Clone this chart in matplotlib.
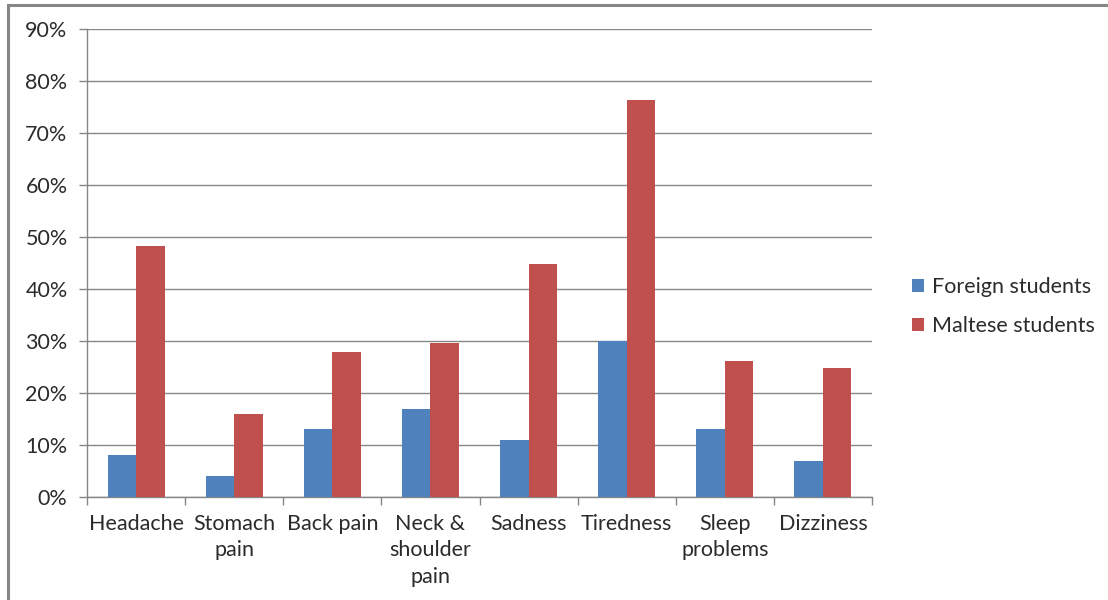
import numpy as np
import matplotlib.pyplot as plt
from matplotlib.patches import Rectangle
from matplotlib.ticker import PercentFormatter

symptoms = ["Headache", "Stomach\npain", "Back pain", "Neck &\nshoulder\npain",
            "Sadness", "Tiredness", "Sleep\nproblems", "Dizziness"]
foreign = [8, 4, 13, 17, 11, 30, 13, 7]
maltese = [48.3, 16, 27.9, 29.6, 44.8, 76.3, 26.2, 24.8]
series_names = ["Foreign students", "Maltese students"]
colors = ["#4F81BD", "#C0504D"]

plt.rcParams['font.family'] = ['Lato', 'DejaVu Sans']
grey = "#868686"
txt = "#2b2b2b"
fs = 15.5

fig = plt.figure(figsize=(11.08, 6), dpi=100)
# outer chart frame (only top and left edges fall inside the image)
fig.patches.append(Rectangle((8 / 1108, -0.05), 1.2, (600 - 5) / 600 + 0.05,
                             transform=fig.transFigure, fill=False,
                             edgecolor=grey, linewidth=2.2))

ax = fig.add_axes([87 / 1108, 1 - 497 / 600, (872 - 87) / 1108, (497 - 29) / 600])
x = np.arange(len(symptoms))
w = 0.29
ax.bar(x - w / 2, foreign, w, color=colors[0], label=series_names[0], zorder=3)
ax.bar(x + w / 2, maltese, w, color=colors[1], label=series_names[1], zorder=3)

ax.set_xlim(-0.5, len(symptoms) - 0.5)
ax.set_ylim(0, 90)
ax.set_yticks(np.arange(0, 91, 10))
ax.yaxis.set_major_formatter(PercentFormatter(decimals=0))
ax.grid(axis='y', color=grey, linewidth=1, zorder=0)
ax.set_axisbelow(True)

ax.set_xticks(np.arange(-0.5, len(symptoms)), minor=False)
ax.set_xticklabels([])
ax.set_xticks(x, minor=True)
ax.set_xticklabels(symptoms, minor=True, fontsize=fs, color=txt, linespacing=1.42)
ax.tick_params(axis='x', which='major', length=6, color=grey, width=1)
ax.tick_params(axis='x', which='minor', length=0, pad=12)
ax.tick_params(axis='y', length=6, color=grey, width=1, labelsize=fs,
               labelcolor=txt, pad=8)

for s in ['top', 'right']:
    ax.spines[s].set_visible(False)
for s in ['left', 'bottom']:
    ax.spines[s].set_color(grey)
    ax.spines[s].set_linewidth(1)

fig.legend(loc='upper left', bbox_to_anchor=(893 / 1108, 1 - 258 / 600),
           frameon=False, fontsize=fs, handlelength=0.55, handleheight=0.55,
           handletextpad=0.35, labelspacing=0.85, labelcolor=txt)

fig.savefig("out.png", dpi=100)
